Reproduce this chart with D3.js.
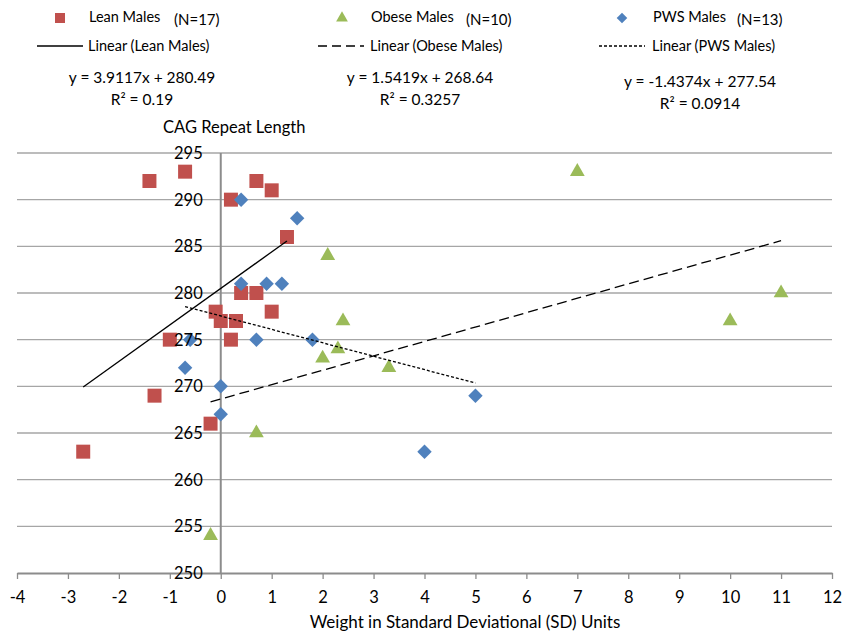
<!DOCTYPE html>
<html>
<head>
<meta charset="utf-8">
<title>CAG repeat length vs weight SD</title>
<style>
body { margin: 0; background: #fff; }
text { font-family: Lato, "Open Sans", sans-serif; fill: #000; }
.grid line { stroke: #a6a6a6; stroke-width: 1.3px; }
.trend { fill: none; stroke: #000; stroke-width: 1.3px; }
</style>
</head>
<body>
<script src="https://cdn.jsdelivr.net/npm/d3@7"></script>
<script>

// data
var leanX = [-1.4, -0.7, 0.7, 1.0, 0.2, 1.3, 0.4, 0.7, 1.0, -0.1, 0, 0.3, 0.2, -1.0, -1.3, -0.2, -2.7];
var leanY = [292, 293, 292, 291, 290, 286, 280, 280, 278, 278, 277, 277, 275, 275, 269, 266, 263];

var obeseX = [7, 2.1, 2.4, 2.3, 2.0, 3.3, 0.7, -0.2, 10, 11];
var obeseY = [293, 284, 277, 274, 273, 272, 265, 254, 277, 280];

var pwsX = [0.4, 1.5, 0.4, 0.9, 1.2, -0.6, 0.7, 1.8, -0.7, 0, 0, 5, 4];
var pwsY = [290, 288, 281, 281, 281, 275, 275, 275, 272, 270, 267, 269, 263];

var seriesNames = ["Lean Males", "Obese Males", "PWS Males"];
var seriesN = ["(N=17)", "(N=10)", "(N=13)"];
var slopes = [3.9117, 1.5419, -1.4374];
var intercepts = [280.49, 268.64, 277.54];
var eqLabels = ["y = 3.9117x + 280.49", "y = 1.5419x + 268.64", "y = -1.4374x + 277.54"];
var r2Labels = ["R\u00b2 = 0.19", "R\u00b2 = 0.3257", "R\u00b2 = 0.0914"];

var xTicks = d3.range(-4, 13, 1);
var yTicks = d3.range(250, 296, 5);

var width = 851, height = 634;
var colors = ["#c0504d", "#9bbb59", "#4f81bd"];
var dashes = [null, "10,5", "3,2"];

var svg = d3.select("body").append("svg")
    .attr("width", width)
    .attr("height", height);

var x = d3.scaleLinear().domain([-4, 12]).range([17, 832]);
var y = d3.scaleLinear().domain([250, 295]).range([573, 153]);

// horizontal gridlines
svg.append("g").attr("class", "grid")
  .selectAll("line")
  .data(yTicks.slice(1))
  .enter().append("line")
    .attr("x1", x(-4)).attr("x2", x(12))
    .attr("y1", function(d) { return y(d); })
    .attr("y2", function(d) { return y(d); });

// bottom axis, ticks pointing down, plain hyphen minus
var xAxis = svg.append("g")
    .attr("transform", "translate(0," + y(250) + ")")
    .call(d3.axisBottom(x).tickValues(xTicks).tickSize(6).tickSizeOuter(0).tickPadding(12)
      .tickFormat(function(d) { return String(d); }));
xAxis.select(".domain").attr("stroke", "#8c8c8c").attr("stroke-width", 2);
xAxis.selectAll(".tick line").attr("stroke", "#8c8c8c").attr("stroke-width", 1.3);
xAxis.selectAll(".tick text").style("font-size", "16.5px").attr("fill", "#000");

// vertical axis sits at x = 0
svg.append("line")
    .attr("x1", x(0)).attr("x2", x(0))
    .attr("y1", y(295)).attr("y2", y(250))
    .attr("stroke", "#8c8c8c").attr("stroke-width", 2);

// markers: square, triangle, diamond (a square turned 45deg)
var symbols = [d3.symbolSquare, d3.symbolTriangle, d3.symbolSquare];
var sizes = [196, 95, 104];
var allX = [leanX, obeseX, pwsX];
var allY = [leanY, obeseY, pwsY];

allX.forEach(function(xs, i) {
  var pts = xs.map(function(v, j) { return [v, allY[i][j]]; });
  var sym = d3.symbol().type(symbols[i]).size(sizes[i]);
  svg.append("g").selectAll("path")
    .data(pts)
    .enter().append("path")
      .attr("d", sym)
      .attr("fill", colors[i])
      .attr("transform", function(d) {
        var t = "translate(" + x(d[0]) + "," + y(d[1]) + ")";
        return i == 2 ? t + "rotate(45)" : t;
      });
});

// trendlines from the shown equations, over each series' x range
allX.forEach(function(xs, i) {
  var ext = d3.extent(xs);
  var line = d3.line()
      .x(function(d) { return x(d); })
      .y(function(d) { return y(slopes[i] * d + intercepts[i]); });
  svg.append("path")
      .attr("class", "trend")
      .attr("d", line(ext))
      .attr("stroke-dasharray", dashes[i]);
});

// y tick labels, drawn left of the zero axis
svg.append("g").selectAll("text")
  .data(yTicks)
  .enter().append("text")
    .attr("x", x(0) - 18)
    .attr("y", function(d) { return y(d); })
    .attr("dy", "0.36em")
    .attr("text-anchor", "end")
    .style("font-size", "16.5px")
    .text(function(d) { return d; });

// axis titles
svg.append("text")
    .attr("x", 163).attr("y", 133)
    .style("font-size", "16.5px")
    .text("CAG Repeat Length");
svg.append("text")
    .attr("x", 465).attr("y", 628)
    .attr("text-anchor", "middle")
    .style("font-size", "17px")
    .text("Weight in Standard Deviational (SD) Units");

// legend
var legX = [60, 342, 622];      // marker centre
var lineX = [37, 318, 599];     // line sample start
var textX = [89, 371, 653];
var nX = [174, 466, 737];
var eqX = [142, 420, 700];
var eqY = [83, 83, 87];

seriesNames.forEach(function(name, i) {
  var sym = d3.symbol().type(symbols[i]).size(i == 0 ? 100 : (i == 1 ? 60 : 56));
  svg.append("path")
      .attr("d", sym)
      .attr("fill", colors[i])
      .attr("transform", "translate(" + legX[i] + ",18)" + (i == 2 ? "rotate(45)" : ""));
  svg.append("text")
      .attr("x", textX[i]).attr("y", 22)
      .style("font-size", "14.5px")
      .text(name);
  svg.append("text")
      .attr("x", nX[i]).attr("y", 25)
      .style("font-size", "15px")
      .text(seriesN[i]);

  svg.append("line")
      .attr("x1", lineX[i]).attr("x2", lineX[i] + 46)
      .attr("y1", 46).attr("y2", 46)
      .attr("stroke", "#000").attr("stroke-width", 1.3)
      .attr("stroke-dasharray", i == 1 ? "9,5" : (i == 2 ? "3,2" : null));
  svg.append("text")
      .attr("x", textX[i] - 1).attr("y", 51)
      .style("font-size", "14.5px")
      .text("Linear (" + name + ")");

  svg.append("text")
      .attr("x", eqX[i]).attr("y", eqY[i])
      .attr("text-anchor", "middle")
      .style("font-size", "15.5px")
      .text(eqLabels[i]);
  svg.append("text")
      .attr("x", eqX[i]).attr("y", eqY[i] + 22)
      .attr("text-anchor", "middle")
      .style("font-size", "15.5px")
      .text(r2Labels[i]);
});

</script>
</body>
</html>
